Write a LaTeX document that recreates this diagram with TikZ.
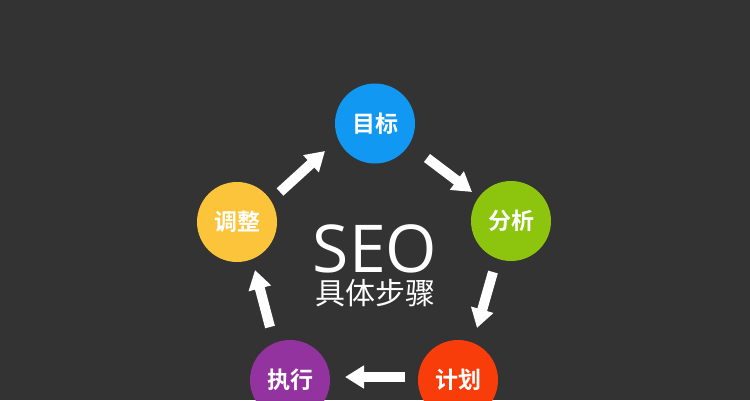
\documentclass[tikz,border=0pt]{standalone}
\usepackage{fontspec}
\setmainfont{Open Sans}
\newfontfamily\cjk{Noto Sans CJK SC}
\newfontfamily\cjkb{Noto Sans CJK SC Bold}
\usetikzlibrary{arrows.meta}
\definecolor{bg}{HTML}{333333}
\definecolor{cblue}{HTML}{1198F3}
\definecolor{cgreen}{HTML}{8CC40E}
\definecolor{cred}{HTML}{F83C0A}
\definecolor{cpurple}{HTML}{93339F}
\definecolor{cyellow}{HTML}{FBC43A}
\tikzset{
  stepcircle/.style={circle, minimum size=80pt, inner sep=0pt, text=white, font=\cjkb\fontsize{23}{23}\selectfont},
  bigarrow/.style={white, line width=10pt, -{Triangle[width=22pt,length=19pt]}, shorten >=0pt}
}
\begin{document}
\begin{tikzpicture}[x=1pt,y=-1pt]
\fill[bg] (0,0) rectangle (750,400);
\useasboundingbox (0,0) rectangle (750,400);
\node[stepcircle, fill=cblue] (mb) at (375,123.5) {目标};
\node[stepcircle, fill=cgreen] (fx) at (511,221) {分析};
\node[stepcircle, fill=cred] (jh) at (458,380) {计划};
\node[stepcircle, fill=cpurple] (zx) at (290,380) {执行};
\node[stepcircle, fill=cyellow] (tz) at (237,222) {调整};
\node[text=white, font=\fontsize{66}{66}\selectfont, inner sep=0pt, anchor=base, text depth=0pt] (seo) at (375,272) {SEO};
\node[text=white, font=\cjk\fontsize{30}{30}\selectfont, inner sep=0pt, anchor=base, text height=23pt, text depth=0pt] (sub) at (375,304) {具体步骤};
\coordinate (a1s) at (280,192); \coordinate (a1e) at (325,151);
\coordinate (a2s) at (427,158); \coordinate (a2e) at (472,192);
\coordinate (a3s) at (493,272); \coordinate (a3e) at (477,328);
\coordinate (a4s) at (405,377); \coordinate (a4e) at (345,377);
\coordinate (a5s) at (270,327); \coordinate (a5e) at (255,270);
\draw[bigarrow] (a1s) -- (a1e);
\draw[bigarrow] (a2s) -- (a2e);
\draw[bigarrow] (a3s) -- (a3e);
\draw[bigarrow] (a4s) -- (a4e);
\draw[bigarrow] (a5s) -- (a5e);
\end{tikzpicture}
\end{document}
